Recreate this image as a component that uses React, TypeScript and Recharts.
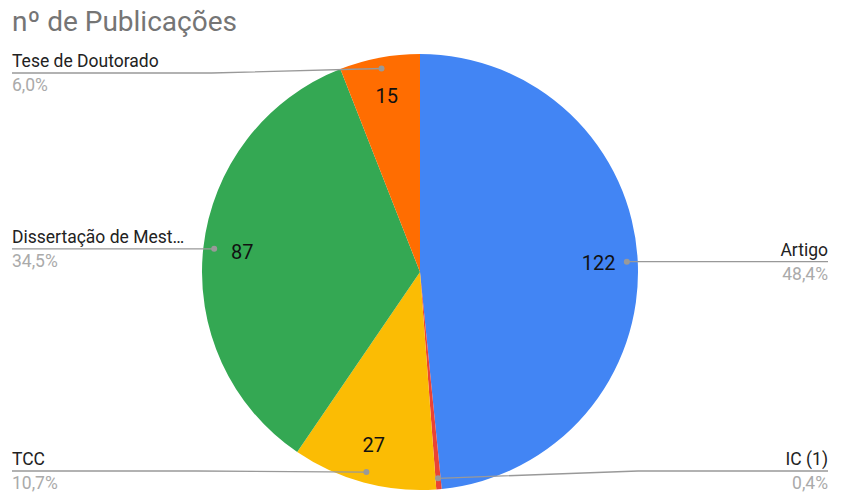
import { Cell, Pie, PieChart } from 'recharts';

const categories = ['Artigo', 'IC (1)', 'TCC', 'Dissertação de Mestrado', 'Tese de Doutorado'];
const shortLabels = ['Artigo', 'IC (1)', 'TCC', 'Dissertação de Mest…', 'Tese de Doutorado'];
const publicacoes = [122, 1, 27, 87, 15];
const colors = ['#4285f4', '#ea4335', '#fbbc04', '#34a853', '#ff6d01'];

const data = categories.map((name, i) => ({ name, value: publicacoes[i] }));
const total = publicacoes.reduce((s, v) => s + v, 0);

const WIDTH = 850;
const HEIGHT = 504;
const RAD = Math.PI / 180;
const font = 'Roboto, Arial, sans-serif';

function renderLabel(props: any) {
  const { cx, cy, midAngle, outerRadius, index, value } = props;
  const cos = Math.cos(-midAngle * RAD);
  const sin = Math.sin(-midAngle * RAD);
  const inner = outerRadius * 0.82;
  const dotR = outerRadius * 0.95;
  const vx = cx + inner * cos;
  const vy = cy + inner * sin;
  const dx = cx + dotR * cos;
  const dy = cy + dotR * sin;
  const right = cos >= 0;
  const edgeX = right ? WIDTH - 22 : 12;
  const lineY = Math.min(Math.max(dy, 73), 471);
  const bendX = right ? Math.min(dx + 200, edgeX) : Math.max(dx - 170, edgeX);
  const share = value / total;
  const pct = (share * 100).toFixed(1).replace('.', ',') + '%';
  const anchor = right ? 'end' : 'start';
  return (
    <g key={`lbl-${index}`}>
      {share > 0.02 && (
        <text x={vx} y={vy} textAnchor="middle" dominantBaseline="central" fontFamily={font} fontSize={20} fill="#111">
          {value}
        </text>
      )}
      <polyline
        points={`${dx},${dy} ${bendX},${lineY} ${edgeX},${lineY}`}
        fill="none"
        stroke="#999"
        strokeWidth={1.3}
      />
      <circle cx={dx} cy={dy} r={3} fill="#999" />
      <text x={edgeX} y={lineY - 6} textAnchor={anchor} fontFamily={font} fontSize={17.5} fill="#222">
        {shortLabels[index]}
      </text>
      <text x={edgeX} y={lineY + 18} textAnchor={anchor} fontFamily={font} fontSize={17.5} fill="#aaa">
        {pct}
      </text>
    </g>
  );
}

export default function App() {
  return (
    <div style={{ position: 'absolute', left: 0, top: 0, width: WIDTH, height: HEIGHT, background: '#fff' }}>
      <PieChart width={WIDTH} height={HEIGHT} margin={{ top: 0, right: 0, bottom: 0, left: 0 }}>
        <text x={12} y={31} fontFamily={font} fontSize={28} fill="#757575">
          nº de Publicações
        </text>
        <Pie
          data={data}
          dataKey="value"
          nameKey="name"
          cx={420}
          cy={272}
          outerRadius={218}
          startAngle={90}
          endAngle={-270}
          stroke="none"
          label={renderLabel}
          labelLine={false}
          isAnimationActive={false}
        >
          {data.map((_, i) => (
            <Cell key={i} fill={colors[i]} />
          ))}
        </Pie>
      </PieChart>
    </div>
  );
}
